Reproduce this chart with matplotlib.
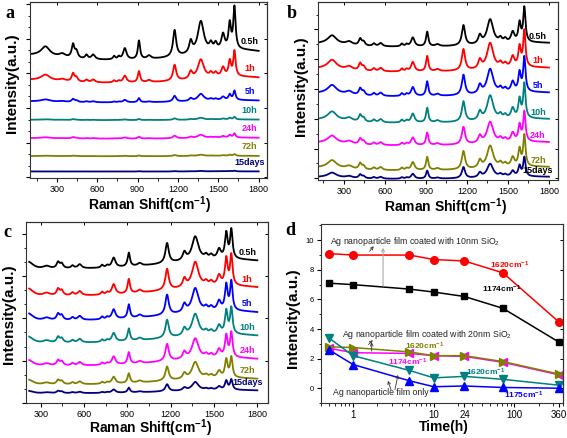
import numpy as np
import matplotlib
matplotlib.use("Agg")
import matplotlib.pyplot as plt
from matplotlib.ticker import MultipleLocator, FixedLocator, LogLocator, NullFormatter

plt.rcParams['font.family'] = ['Liberation Sans', 'DejaVu Sans']
plt.rcParams['mathtext.default'] = 'regular'

# ---------------- data: Raman spectra ----------------
peak_pos = [215, 340, 420, 445, 520, 570, 725, 760, 805, 910, 985, 1175, 1295, 1370, 1445, 1480, 1535, 1585, 1620]
peak_wid = [38, 28, 12, 13, 12, 16, 10, 10, 15, 10, 17, 14, 14, 27, 13, 13, 15, 11, 10]
heights_a = [28, 10, 40, 20, 12, 14, 10, 8, 34, 56, 10, 80, 36, 96, 20, 20, 46, 76, 126]
heights_b = [25, 10, 20, 12, 8, 10, 8, 6, 27, 44, 6, 61, 25, 75, 13, 11, 31, 57, 104]
heights_c = [10, 8, 18, 14, 8, 12, 8, 6, 29, 41, 8, 60, 24, 72, 11, 11, 28, 76, 86]
# broad background (gaussian): centers, sigmas, heights per panel
bg_pos_a, bg_sig_a, bg_h_a = [100, 1650], [200, 300], [15, 30]
bg_pos_b, bg_sig_b, bg_h_b = [150, 1700], [150, 300], [10, 12]
bg_pos_c, bg_sig_c, bg_h_c = [200, 1600], [40, 400], [12, 28]

labels = ['0.5h', '1h', '5h', '10h', '24h', '72h', '15days']
colors = ['#000000', '#FF0000', '#0000FF', '#008080', '#FF00FF', '#808000', '#000080']
scale_a = [1.0, 0.6, 0.22, 0.06, 0.1, 0.04, 0.015]
offset_a = [385, 305, 235, 177, 122, 67, 20]
scale_b = [1.0, 1.05, 1.0, 1.0, 0.86, 0.9, 0.55]
offset_b = [415, 340, 265, 185, 115, 40, 10]
scale_c = [1.0, 1.05, 1.0, 0.9, 0.85, 0.7, 0.35]
offset_c = [428, 348, 273, 203, 133, 73, 38]

# ---------------- data: panel d ----------------
time_h = [0.5, 1, 5, 10, 24, 72, 360]
red_1620_10nm = [9.1, 9.0, 9.0, 8.7, 8.6, 7.8, 4.45]
blk_1174_10nm = [7.1, 7.0, 6.7, 6.5, 6.2, 5.4, 3.1]
olv_1620_20nm = [2.8, 2.75, 2.45, 2.2, 2.2, 1.8, 0.95]
mag_1174_20nm = [2.7, 2.4, 2.35, 2.2, 2.15, 1.75, 0.9]
tea_1620_ag = [3.4, 2.2, 1.2, 0.7, 0.8, 0.6, 0.2]
blu_1175_ag = [2.6, 1.6, 0.5, 0.1, 0.15, 0.05, 0.0]
d_xticks = [1, 10, 24, 100, 360]


def spectrum(x, heights, bgp, bgs, bgh):
    y = np.zeros_like(x)
    for p, w, h in zip(peak_pos, peak_wid, heights):
        y += h * w ** 2 / ((x - p) ** 2 + w ** 2)
    for p, s, h in zip(bgp, bgs, bgh):
        y += h * np.exp(-0.5 * ((x - p) / s) ** 2)
    return y


W, H = 567, 438
fig = plt.figure(figsize=(W / 100, H / 100), dpi=100)


def rect(l, t, r, b):
    return [l / W, 1 - b / H, (r - l) / W, (b - t) / H]


def ftext(px, py, s, va='center', **kw):
    fig.text(px / W, 1 - py / H, s, ha='center', va=va, **kw)


def style_spec_axes(ax, xlim, ylim, ymaj, ymin_):
    ax.set_xlim(*xlim)
    ax.set_ylim(*ylim)
    ax.xaxis.set_major_locator(FixedLocator([300, 600, 900, 1200, 1500, 1800]))
    ax.xaxis.set_minor_locator(MultipleLocator(150))
    ax.yaxis.set_major_locator(FixedLocator(ymaj))
    ax.yaxis.set_minor_locator(FixedLocator(ymin_))
    ax.set_yticklabels([])
    ax.tick_params(axis='x', which='major', direction='out', length=3, width=0.8, labelsize=6.5, pad=2)
    ax.tick_params(axis='x', which='minor', direction='out', length=1.8, width=0.6)
    ax.tick_params(axis='y', which='major', direction='out', length=3, width=0.8)
    ax.tick_params(axis='y', which='minor', direction='out', length=1.8, width=0.6)
    for s in ax.spines.values():
        s.set_linewidth(0.8)
        s.set_color('#333333')
    sx = ax.secondary_xaxis('top')
    sx.xaxis.set_major_locator(FixedLocator([300, 600, 900, 1200, 1500, 1800]))
    sx.tick_params(direction='in', length=2.5, width=0.7, labeltop=False)
    sy = ax.secondary_yaxis('right')
    sy.yaxis.set_major_locator(FixedLocator(ymaj))
    sy.tick_params(direction='in', length=2.5, width=0.7, labelright=False)


def draw_panel(ax, xstart, heights, bg, scales, offsets, gap, label_x, label_cols):
    x = np.linspace(xstart, 1800, 1600)
    for lab, col, sc, off, lc in zip(labels, colors, scales, offsets, label_cols):
        base = spectrum(x, heights, *bg)
        y = off + sc * (base - base[-1])
        ax.plot(x, y, color=col, lw=1.3)
        ax.text(label_x, off + gap, lab, color=lc, fontsize=6.5, fontweight='bold',
                ha='center', va='center')


xlab = 'Raman Shift(cm$^{-1}$)'
ylab = 'Intensity(a.u.)'
lab_kw = dict(fontsize=10, fontweight='bold', va='baseline')
ylab_kw = dict(fontsize=11, fontweight='bold', rotation=90)

# panel a
axa = fig.add_axes(rect(30, 2, 267, 178))
draw_panel(axa, 100, heights_a, (bg_pos_a, bg_sig_a, bg_h_a), scale_a, offset_a, 28, 1734, colors)
style_spec_axes(axa, (100, 1862), (0, 533), np.arange(2, 533, 105), np.arange(2, 533, 35))
ftext(150, 209.5, xlab, **lab_kw)
ftext(12, 83, ylab, **ylab_kw)

# panel b
axb = fig.add_axes(rect(318, 2, 558, 180))
b_lab_cols = colors[:-1] + ['#000000']
draw_panel(axb, 120, heights_b, (bg_pos_b, bg_sig_b, bg_h_b), scale_b, offset_b, 20, 1720, b_lab_cols)
style_spec_axes(axb, (112, 1866), (0, 538), np.arange(5, 538, 90), np.arange(5, 538, 45))
ftext(446, 211.5, xlab, **lab_kw)
ftext(301, 86, ylab, **ylab_kw)

# panel c
axc = fig.add_axes(rect(26, 222, 268, 403))
draw_panel(axc, 220, heights_c, (bg_pos_c, bg_sig_c, bg_h_c), scale_c, offset_c, 24, 1730, colors)
style_spec_axes(axc, (198, 1874), (0, 543), np.arange(0, 543, 127), np.arange(0, 543, 42.33))
ftext(151, 433.3, xlab, **lab_kw)
ftext(9, 314, ylab, **ylab_kw)

# panel d
axd = fig.add_axes(rect(321, 224, 563, 403))
axd.set_xscale('log')
lw = 1.1
ms = 5.5
axd.plot(time_h, red_1620_10nm, color='#FF0000', marker='o', ms=ms, lw=lw)
axd.plot(time_h, blk_1174_10nm, color='#000000', marker='s', ms=ms - 0.5, lw=lw)
axd.plot(time_h, mag_1174_20nm, color='#FF00FF', marker='<', ms=ms, lw=lw)
axd.plot(time_h, olv_1620_20nm, color='#808000', marker='>', ms=ms, lw=lw)
axd.plot(time_h, tea_1620_ag, color='#008080', marker='v', ms=ms, lw=lw)
axd.plot(time_h, blu_1175_ag, color='#0000FF', marker='^', ms=ms, lw=lw)
axd.set_xlim(0.4, 400)
axd.set_ylim(-1, 11.1)
axd.xaxis.set_major_locator(FixedLocator(d_xticks))
axd.set_xticklabels([str(t) for t in d_xticks])
axd.xaxis.set_minor_locator(LogLocator(base=10, subs=np.arange(2, 10)))
axd.xaxis.set_minor_formatter(NullFormatter())
axd.yaxis.set_major_locator(MultipleLocator(2))
axd.yaxis.set_minor_locator(MultipleLocator(1))
axd.tick_params(axis='x', which='major', direction='out', length=3, width=0.8, labelsize=7, pad=2)
axd.tick_params(axis='x', which='minor', direction='out', length=1.8, width=0.6)
axd.tick_params(axis='y', which='major', direction='out', length=3, width=0.8, labelsize=5.5, pad=2)
axd.tick_params(axis='y', which='minor', direction='out', length=1.8, width=0.6)
for s in axd.spines.values():
    s.set_linewidth(0.8)
    s.set_color('#333333')
sy = axd.secondary_yaxis('right')
sy.yaxis.set_major_locator(MultipleLocator(2))
sy.tick_params(direction='in', length=2.5, width=0.7, labelright=False)
ftext(444, 430.5, 'Time(h)', **lab_kw)
ftext(293, 318, 'Intencity(a.u.)', **ylab_kw)

tfs = 6.3
axd.text(0.52, 9.95, 'Ag nanoparticle film coated with 10nm SiO$_2$', fontsize=tfs, color='#222222', va='center')
axd.text(0.73, 3.62, 'Ag nanoparticle film coated with 20nm SiO$_2$', fontsize=tfs, color='#222222', va='center')
axd.text(0.57, -0.3, 'Ag nanoparticle film only', fontsize=tfs, color='#222222', va='center')
axd.text(87, 8.3, '1620cm$^{-1}$', fontsize=6, fontweight='bold', color='#FF0000', ha='center', va='center')
axd.text(69, 6.7, '1174cm$^{-1}$', fontsize=6, fontweight='bold', color='#000000', ha='center', va='center')
axd.text(7.7, 2.85, '1620cm$^{-1}$', fontsize=6, fontweight='bold', color='#808000', ha='center', va='center')
axd.text(4.8, 1.78, '1174cm$^{-1}$', fontsize=6, fontweight='bold', color='#FF00FF', ha='center', va='center')
axd.text(44, 1.1, '1620cm$^{-1}$', fontsize=6, fontweight='bold', color='#008080', ha='center', va='center')
axd.text(130, -0.48, '1175cm$^{-1}$', fontsize=6, fontweight='bold', color='#0000FF', ha='center', va='center')

arr = dict(arrowstyle='->', lw=0.6, color='#333333', shrinkA=0, shrinkB=0, mutation_scale=5)
axd.annotate('', xy=(2.35, 9.5), xytext=(2.35, 6.9),
             arrowprops=dict(arrowstyle='->', lw=0.8, color='#aaaaaa', shrinkA=0, shrinkB=0, mutation_scale=5))
axd.annotate('', xy=(1.8, 9.6), xytext=(1.6, 9.25), arrowprops=arr)
axd.annotate('', xy=(1.7, 3.1), xytext=(1.7, 2.5), arrowprops=arr)
axd.annotate('', xy=(1.75, 3.25), xytext=(1.55, 2.95), arrowprops=arr)
axd.annotate('', xy=(2.7, 0.5), xytext=(2.95, -0.1), arrowprops=arr)
axd.annotate('', xy=(3.6, 0.9), xytext=(3.3, -0.1), arrowprops=arr)

# panel letters
for letter, px, py in [('a', 5, 18), ('b', 287, 18), ('c', 3, 237), ('d', 285, 235)]:
    fig.text(px / W, 1 - py / H, letter, fontsize=13, fontweight='bold',
             family='Liberation Serif', ha='left', va='baseline')

fig.savefig('out.png', dpi=100)
